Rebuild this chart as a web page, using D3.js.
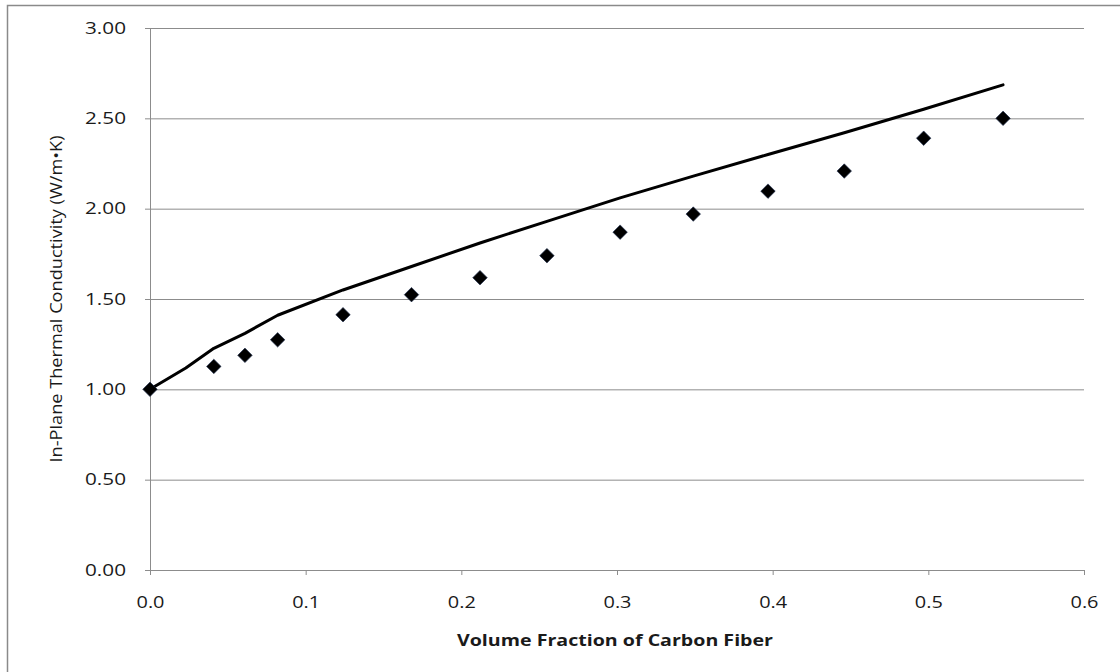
<!DOCTYPE html>
<html>
<head>
<meta charset="utf-8">
<script src="https://cdn.jsdelivr.net/npm/d3@7"></script>
<style>
  body { margin: 0; background: #fff; }
  text { font-family: 'Open Sans', sans-serif; fill: #1a1a1a; }
</style>
</head>
<body>
<div id="chart"></div>
<script>
// measured points (volume fraction vs conductivity)
const measuredX = [0, 0.041, 0.061, 0.082, 0.124, 0.168, 0.212, 0.255, 0.302, 0.349, 0.397, 0.446, 0.497, 0.548];
const measuredY = [1.00, 1.127, 1.188, 1.274, 1.413, 1.524, 1.618, 1.74, 1.87, 1.97, 2.097, 2.208, 2.39, 2.50];

// model curve
const modelX = [0, 0.023, 0.041, 0.061, 0.082, 0.124, 0.168, 0.212, 0.255, 0.302, 0.349, 0.397, 0.446, 0.497, 0.548];
const modelY = [1.00, 1.118, 1.227, 1.31, 1.41, 1.55, 1.68, 1.81, 1.93, 2.06, 2.18, 2.30, 2.42, 2.55, 2.685];

const xTicks = [0, 0.1, 0.2, 0.3, 0.4, 0.5, 0.6];
const yTicks = [0, 0.5, 1.0, 1.5, 2.0, 2.5, 3.0];

const margin = { top: 28, left: 150, right: 36, bottom: 102 };
const W = 1120, H = 672;
const width = W - margin.left - margin.right;
const height = H - margin.top - margin.bottom;

const svg = d3.select('#chart')
  .append('svg')
  .attr('width', W)
  .attr('height', H);

// outer chart frame (only top/left visible)
svg.append('rect')
  .attr('x', 7.5).attr('y', 5.5)
  .attr('width', 1300).attr('height', 900)
  .attr('fill', 'none')
  .attr('stroke', '#8a8a8a')
  .attr('stroke-width', 1.5);

const g = svg.append('g')
  .attr('transform', `translate(${margin.left},${margin.top})`);

const x = d3.scaleLinear().domain([0, 0.6]).range([0, width]);
const y = d3.scaleLinear().domain([0, 3]).range([height, 0]);

// horizontal gridlines
g.append('g')
  .selectAll('line')
  .data(yTicks)
  .join('line')
  .attr('x1', 0).attr('x2', width)
  .attr('y1', d => y(d) + 0.5).attr('y2', d => y(d) + 0.5)
  .attr('stroke', '#8c8c8c')
  .attr('stroke-width', 1);

const yAxis = g.append('g')
  .call(d3.axisLeft(y).tickValues(yTicks).tickSize(5).tickPadding(19).tickFormat(d3.format('.2f')));
yAxis.select('.domain').attr('stroke', '#8c8c8c');
yAxis.selectAll('.tick line').attr('stroke', '#8c8c8c');
yAxis.selectAll('.tick text')
  .style('font-size', '16.5px')
  .attr('fill', '#1a1a1a')
  .attr('textLength', 41)
  .attr('lengthAdjust', 'spacingAndGlyphs');

const xAxis = g.append('g')
  .attr('transform', `translate(0,${height})`)
  .call(d3.axisBottom(x).tickValues(xTicks).tickSize(5).tickFormat(d3.format('.1f')));
xAxis.select('.domain').attr('stroke', '#8c8c8c');
xAxis.selectAll('.tick line').attr('stroke', '#8c8c8c');
xAxis.selectAll('.tick text')
  .style('font-size', '16.5px')
  .attr('fill', '#1a1a1a')
  .attr('y', 38)
  .attr('dy', 0)
  .attr('textLength', 28)
  .attr('lengthAdjust', 'spacingAndGlyphs');

// model line
const line = d3.line()
  .x(d => x(d[0]))
  .y(d => y(d[1]));

g.append('path')
  .datum(modelX.map((v, i) => [v, modelY[i]]))
  .attr('d', line)
  .attr('fill', 'none')
  .attr('stroke', '#000')
  .attr('stroke-width', 3)
  .attr('stroke-linejoin', 'round')
  .attr('stroke-linecap', 'round');

// measured diamonds
g.selectAll('.pt')
  .data(measuredX.map((v, i) => [v, measuredY[i]]))
  .join('path')
  .attr('class', 'pt')
  .attr('d', d3.symbol().type(d3.symbolSquare).size(105))
  .attr('transform', d => `translate(${x(d[0])},${y(d[1])}) rotate(45)`)
  .attr('fill', '#000')
  .attr('stroke', '#203050')
  .attr('stroke-width', 0.6);

// axis titles
g.append('text')
  .attr('x', width / 2 - 2)
  .attr('y', height + 76)
  .attr('text-anchor', 'middle')
  .style('font-size', '16px')
  .style('font-weight', 'bold')
  .attr('fill', '#111')
  .attr('textLength', 316)
  .attr('lengthAdjust', 'spacingAndGlyphs')
  .text('Volume Fraction of Carbon Fiber');

g.append('text')
  .attr('transform', 'rotate(-90)')
  .attr('x', -height / 2)
  .attr('y', 62 - margin.left)
  .attr('text-anchor', 'middle')
  .style('font-size', '17px')
  .attr('fill', '#111')
  .attr('textLength', 327)
  .attr('lengthAdjust', 'spacingAndGlyphs')
  .text('In-Plane Thermal Conductivity (W/m\u2022K)');
</script>
</body>
</html>
